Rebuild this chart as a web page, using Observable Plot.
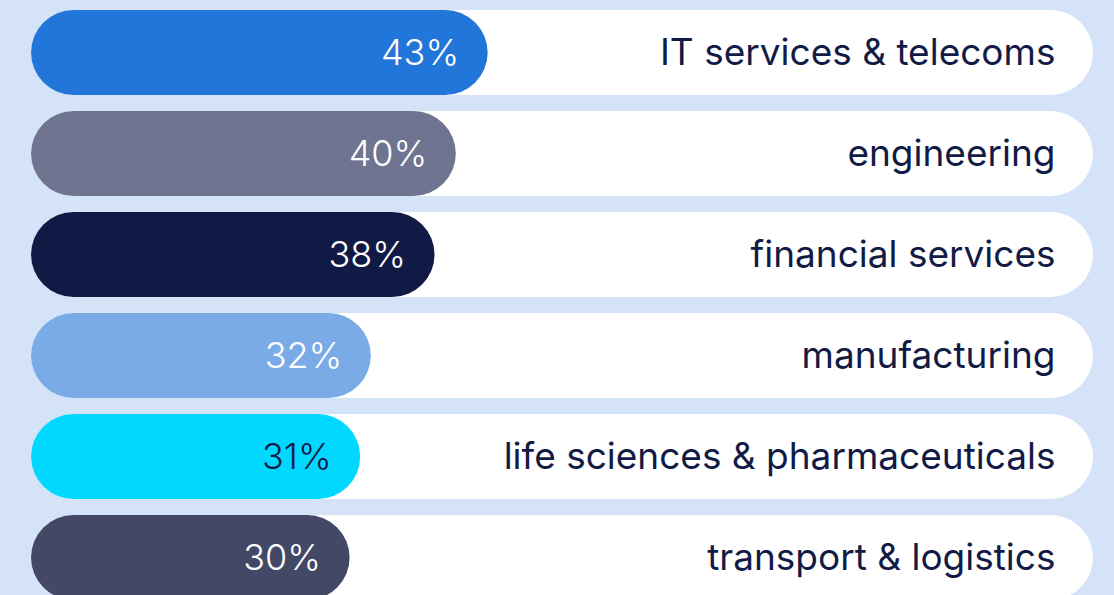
<!DOCTYPE html>
<html>
<head>
<meta charset="utf-8">
<script src="https://cdn.jsdelivr.net/npm/d3@7"></script>
<script src="https://cdn.jsdelivr.net/npm/@observablehq/plot@0.6"></script>
<style>
  html, body { margin: 0; padding: 0; background: #d4e3f7; }
  #chart { width: 1114px; height: 595px; overflow: hidden; }
</style>
</head>
<body>
<div id="chart"></div>
<script>
const sectors = ["IT services & telecoms", "engineering", "financial services", "manufacturing", "life sciences & pharmaceuticals", "transport & logistics"];
const shares = [43, 40, 38, 32, 31, 30];
const barColors = ["#2376d9", "#6f7590", "#111a44", "#7aabe6", "#00d8ff", "#424866"];
const valueTextColors = ["#ffffff", "#ffffff", "#ffffff", "#ffffff", "#121b45", "#ffffff"];

const data = sectors.map((s, i) => ({sector: s, share: shares[i], color: barColors[i], tcolor: valueTextColors[i]}));

const fontFamily = "Inter, 'Noto Sans', sans-serif";

const chart = Plot.plot({
  width: 1114,
  height: 595,
  margin: 0,
  style: {background: "#d4e3f7", fontFamily},
  x: {domain: [0, 100], range: [31, 1093], axis: null},
  y: {domain: sectors, range: [-6, 616], padding: 0.1584, axis: null},
  marks: [
    Plot.barX(data, {x1: 0, x2: 100, y: "sector", fill: "#ffffff", rx: 42.5}),
    Plot.barX(data, {x1: 0, x2: "share", y: "sector", fill: "color", rx: 42.5}),
    Plot.text(data, {x: "share", y: "sector", text: d => d.share + "%", fill: "tcolor", textAnchor: "end", dx: -29, fontSize: 36, fontWeight: 300, fontFamily}),
    Plot.text(data, {x: 100, y: "sector", text: "sector", fill: "#121b45", textAnchor: "end", dx: -38, fontSize: 37, fontWeight: 400, fontFamily, letterSpacing: "0.2px"})
  ]
});
document.getElementById("chart").appendChild(chart);
</script>
</body>
</html>
